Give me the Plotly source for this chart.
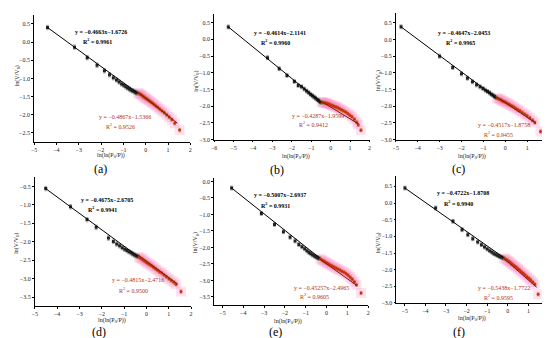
import plotly.graph_objects as go

W, H = 550, 338

# ---------------- data ----------------
# panel (a)
a_bx = [-4.40, -3.19, -2.62, -2.18, -1.85, -1.62, -1.45, -1.31, -1.19, -1.08, -0.98, -0.89, -0.81, -0.73, -0.66, -0.59, -0.52, -0.46, -0.40]
a_by = [0.40, -0.14, -0.43, -0.64, -0.79, -0.90, -0.98, -1.04, -1.10, -1.15, -1.19, -1.23, -1.26, -1.29, -1.32, -1.34, -1.36, -1.38, -1.40]
a_rx = [-0.34, -0.28, -0.22, -0.16, -0.10, -0.04, 0.02, 0.08, 0.15, 0.22, 0.29, 0.37, 0.45, 0.54, 0.63, 0.73, 0.83, 0.94, 1.05, 1.17, 1.30, 1.52]
a_ry = [-1.40, -1.42, -1.44, -1.47, -1.50, -1.53, -1.55, -1.58, -1.61, -1.64, -1.67, -1.71, -1.75, -1.79, -1.84, -1.89, -1.94, -2.00, -2.06, -2.13, -2.23, -2.42]
a_blx, a_bly = [-4.40, -0.35], [0.40, -1.41]
a_rlx, a_rly = [-0.36, 1.42], [-1.37, -2.23]

# panel (b)
b_bx = [-5.27, -3.25, -2.65, -2.25, -1.87, -1.67, -1.50, -1.36, -1.24, -1.13, -1.03, -0.94, -0.86, -0.78, -0.70, -0.63, -0.56, -0.50]
b_by = [0.37, -0.55, -0.88, -1.08, -1.26, -1.38, -1.42, -1.49, -1.55, -1.60, -1.65, -1.69, -1.73, -1.76, -1.80, -1.83, -1.86, -1.89]
b_rx = [-0.46, -0.40, -0.33, -0.26, -0.19, -0.12, -0.05, 0.03, 0.11, 0.19, 0.28, 0.37, 0.46, 0.56, 0.66, 0.77, 0.88, 0.99, 1.10, 1.22, 1.34, 1.42, 1.56]
b_ry = [-1.88, -1.89, -1.90, -1.91, -1.92, -1.93, -1.95, -1.97, -1.99, -2.01, -2.03, -2.05, -2.08, -2.11, -2.14, -2.18, -2.22, -2.27, -2.32, -2.39, -2.48, -2.56, -2.72]
b_blx, b_bly = [-5.27, -0.48], [0.37, -1.89]
b_rlx, b_rly = [-0.45, 1.42], [-1.87, -2.53]

# panel (c)
c_bx = [-4.76, -3.00, -2.40, -2.00, -1.73, -1.50, -1.31, -1.15, -1.02, -0.91, -0.81, -0.72, -0.64, -0.56, -0.49, -0.42]
c_by = [0.38, -0.50, -0.84, -1.03, -1.16, -1.27, -1.36, -1.42, -1.47, -1.52, -1.56, -1.60, -1.64, -1.67, -1.71, -1.74]
c_rx = [-0.38, -0.31, -0.24, -0.17, -0.10, -0.03, 0.05, 0.13, 0.21, 0.29, 0.38, 0.47, 0.57, 0.67, 0.78, 0.89, 1.00, 1.12, 1.24, 1.35, 1.61]
c_ry = [-1.76, -1.78, -1.80, -1.82, -1.85, -1.87, -1.90, -1.93, -1.96, -1.99, -2.02, -2.06, -2.10, -2.14, -2.19, -2.24, -2.29, -2.35, -2.42, -2.49, -2.76]
c_blx, c_bly = [-4.76, -0.41], [0.38, -1.75]
c_rlx, c_rly = [-0.40, 1.40], [-1.72, -2.51]

# panel (d)
d_bx = [-4.51, -3.40, -2.66, -2.25, -1.70, -1.48, -1.33, -1.20, -1.08, -0.97, -0.87, -0.78, -0.69, -0.61, -0.53, -0.45, -0.38]
d_by = [-0.56, -1.05, -1.40, -1.61, -1.90, -1.99, -2.06, -2.11, -2.16, -2.20, -2.24, -2.27, -2.30, -2.33, -2.36, -2.38, -2.40]
d_rx = [-0.34, -0.27, -0.20, -0.13, -0.06, 0.01, 0.08, 0.16, 0.24, 0.32, 0.41, 0.50, 0.59, 0.69, 0.79, 0.90, 1.01, 1.12, 1.23, 1.33, 1.55]
d_ry = [-2.41, -2.44, -2.47, -2.50, -2.53, -2.56, -2.59, -2.62, -2.65, -2.69, -2.73, -2.77, -2.81, -2.85, -2.90, -2.95, -3.00, -3.05, -3.10, -3.15, -3.35]
d_blx, d_bly = [-4.51, -0.37], [-0.56, -2.40]
d_rlx, d_rly = [-0.37, 1.40], [-2.36, -3.15]

# panel (e)
e_bx = [-4.56, -3.13, -2.50, -2.07, -1.75, -1.51, -1.33, -1.18, -1.05, -0.94, -0.84, -0.75, -0.66, -0.58, -0.50, -0.42, -0.35]
e_by = [-0.20, -0.97, -1.30, -1.52, -1.69, -1.80, -1.91, -1.98, -2.04, -2.10, -2.15, -2.19, -2.23, -2.26, -2.29, -2.31, -2.33]
e_rx = [-0.30, -0.22, -0.14, -0.06, 0.02, 0.10, 0.18, 0.27, 0.36, 0.45, 0.54, 0.64, 0.74, 0.84, 0.94, 1.04, 1.14, 1.24, 1.34, 1.44, 1.66]
e_ry = [-2.34, -2.38, -2.41, -2.44, -2.47, -2.50, -2.53, -2.56, -2.59, -2.62, -2.65, -2.68, -2.72, -2.75, -2.79, -2.84, -2.90, -2.96, -3.04, -3.13, -3.38]
e_blx, e_bly = [-4.56, -0.32], [-0.20, -2.32]
e_rlx, e_rly = [-0.32, 1.45], [-2.35, -3.15]

# panel (f)
f_bx = [-4.99, -3.50, -2.66, -2.22, -1.94, -1.70, -1.46, -1.28, -1.13, -1.00, -0.88, -0.77, -0.67, -0.57, -0.48, -0.39, -0.30, -0.22]
f_by = [0.45, -0.15, -0.55, -0.80, -0.95, -1.07, -1.17, -1.25, -1.32, -1.38, -1.43, -1.48, -1.52, -1.55, -1.58, -1.61, -1.63, -1.65]
f_rx = [-0.17, -0.10, -0.03, 0.04, 0.11, 0.18, 0.25, 0.33, 0.41, 0.49, 0.57, 0.66, 0.75, 0.84, 0.93, 1.02, 1.11, 1.21, 1.31, 1.47]
f_ry = [-1.66, -1.69, -1.72, -1.75, -1.78, -1.82, -1.85, -1.89, -1.93, -1.97, -2.01, -2.06, -2.11, -2.16, -2.21, -2.26, -2.31, -2.37, -2.44, -2.74]
f_blx, f_bly = [-4.99, -0.19], [0.45, -1.64]
f_rlx, f_rly = [-0.20, 1.40], [-1.66, -2.53]

black_err = 0.06
red_err = 0.05

eq_black = ["y = −0.4663x−1.6726", "y = −0.4614x−2.1141", "y = −0.4647x−2.0453",
            "y = −0.4675x−2.6705", "y = −0.5007x−2.6937", "y = −0.4722x−1.8708"]
r2_black = ["0.9961", "0.9960", "0.9965", "0.9941", "0.9931", "0.9940"]
eq_red = ["y = −0.4867x−1.5366", "y = −0.4287x−1.9599", "y = −0.4517x−1.8758",
          "y = −0.4815x−2.4716", "y = −0.45257x−2.4965", "y = −0.5438x−1.7722"]
r2_red = ["0.9526", "0.9412", "0.9455", "0.9500", "0.9605", "0.9595"]
labels = ["(a)", "(b)", "(c)", "(d)", "(e)", "(f)"]

# ---------------- layout geometry (pixels) ----------------
panels = [
    dict(bx=a_bx, by=a_by, rx=a_rx, ry=a_ry, blx=a_blx, bly=a_bly, rlx=a_rlx, rly=a_rly,
         px=(23.3, 181.0), py=(6.8, 135.3), xr=[-5, 2], yr=[-2.75, 0.75],
         eqb=(-3.24, 0.28), r2b=(-2.9, 0.04), eqr=(-2.16, -2.05), r2r=(-1.85, -2.30),
         ytit=(6, 68), xtit=(101, 149), lab=(90, 162)),
    dict(bx=b_bx, by=b_by, rx=b_rx, ry=b_ry, blx=b_blx, bly=b_bly, rlx=b_rlx, rly=b_rly,
         px=(205.0, 361.8), py=(6.3, 132.7), xr=[-6, 2], yr=[-3.0, 0.75],
         eqb=(-4.05, 0.19), r2b=(-3.7, -0.07), eqr=(-2.09, -2.29), r2r=(-1.75, -2.53),
         ytit=(187, 74), xtit=(288, 150), lab=(268, 163)),
    dict(bx=c_bx, by=c_by, rx=c_rx, ry=c_ry, blx=c_blx, bly=c_bly, rlx=c_rlx, rly=c_rly,
         px=(388.3, 543.0), py=(4.9, 132.7), xr=[-5, 2], yr=[-3.0, 0.8],
         eqb=(-3.15, 0.2), r2b=(-2.8, -0.07), eqr=(-1.35, -2.56), r2r=(-1.05, -2.83),
         ytit=(371, 73), xtit=(465, 150), lab=(452, 162)),
    dict(bx=d_bx, by=d_by, rx=d_rx, ry=d_ry, blx=d_blx, bly=d_bly, rlx=d_rlx, rly=d_rly,
         px=(24.0, 181.7), py=(170.7, 301.0), xr=[-5, 2], yr=[-3.75, -0.25],
         eqb=(-3.04, -0.86), r2b=(-2.7, -1.10), eqr=(-1.62, -3.05), r2r=(-1.33, -3.30),
         ytit=(6, 237), xtit=(102, 315), lab=(89, 327)),
    dict(bx=e_bx, by=e_by, rx=e_rx, ry=e_ry, blx=e_blx, bly=e_bly, rlx=e_rlx, rly=e_rly,
         px=(205.0, 360.4), py=(171.7, 299.9), xr=[-5.4, 2], yr=[-3.75, 0.1],
         eqb=(-3.58, -0.42), r2b=(-3.26, -0.70), eqr=(-1.67, -3.22), r2r=(-1.35, -3.48),
         ytit=(187, 237), xtit=(280, 316), lab=(267, 327)),
    dict(bx=f_bx, by=f_by, rx=f_rx, ry=f_ry, blx=f_blx, bly=f_bly, rlx=f_rlx, rly=f_rly,
         px=(389.0, 543.0), py=(169.9, 297.6), xr=[-5.4, 2], yr=[-3.0, 0.8],
         eqb=(-3.54, 0.30), r2b=(-3.2, 0.0), eqr=(-1.54, -2.56), r2r=(-1.23, -2.81),
         ytit=(371, 237), xtit=(465, 313), lab=(452, 327)),
]

SERIF = "Liberation Serif"
RED_TXT = "#b3301a"

fig = go.Figure()
annotations = []
layout = dict(width=W, height=H, margin=dict(l=0, r=0, t=0, b=0),
              paper_bgcolor="white", plot_bgcolor="white", showlegend=False)

for i, p in enumerate(panels):
    n = "" if i == 0 else str(i + 1)
    xa, ya = "x" + n, "y" + n
    # pink band behind red points
    fig.add_trace(go.Scatter(x=p["rx"], y=p["ry"], mode="markers", xaxis=xa, yaxis=ya,
                             marker=dict(symbol="square", size=10, color="rgba(255,120,190,0.22)",
                                         line=dict(width=0)), hoverinfo="skip"))
    # black points with error bars
    fig.add_trace(go.Scatter(x=p["bx"], y=p["by"], mode="markers", xaxis=xa, yaxis=ya,
                             marker=dict(symbol="square", size=3, color="#222"),
                             error_y=dict(type="constant", value=black_err, color="#777",
                                          thickness=0.6, width=1.5)))
    # red points with error bars
    fig.add_trace(go.Scatter(x=p["rx"], y=p["ry"], mode="markers", xaxis=xa, yaxis=ya,
                             marker=dict(symbol="circle", size=3, color="#d42a10"),
                             error_y=dict(type="constant", value=red_err, color="#9c9a3c",
                                          thickness=0.6, width=1.5)))
    # fit lines
    fig.add_trace(go.Scatter(x=p["blx"], y=p["bly"], mode="lines", xaxis=xa, yaxis=ya,
                             line=dict(color="black", width=1)))
    fig.add_trace(go.Scatter(x=p["rlx"], y=p["rly"], mode="lines", xaxis=xa, yaxis=ya,
                             line=dict(color="#7a1a10", width=1)))

    dx = [p["px"][0] / W, p["px"][1] / W]
    dy = [1 - p["py"][1] / H, 1 - p["py"][0] / H]
    axis_common = dict(showline=True, linecolor="black", linewidth=0.8, ticks="outside",
                       ticklen=2, tickwidth=0.6, tickcolor="black", showgrid=False,
                       zeroline=False, tickfont=dict(family=SERIF, size=6, color="#222"))
    layout["xaxis" + n] = dict(domain=dx, range=p["xr"], anchor=ya, dtick=1, tick0=0,
                               ticklabelstandoff=0, **axis_common)
    layout["yaxis" + n] = dict(domain=dy, range=p["yr"], anchor=xa, dtick=0.5, tick0=0,
                               tickformat=".1f", ticklabelstandoff=0, **axis_common)

    tf = dict(family=SERIF, size=6, color="black")
    tr = dict(family=SERIF, size=6, color=RED_TXT)
    annotations += [
        dict(x=p["eqb"][0], y=p["eqb"][1], xref=xa, yref=ya, text="<b>" + eq_black[i] + "</b>",
             showarrow=False, xanchor="left", yanchor="middle", font=tf),
        dict(x=p["r2b"][0], y=p["r2b"][1], xref=xa, yref=ya,
             text="<b>R<sup>2</sup> = " + r2_black[i] + "</b>",
             showarrow=False, xanchor="left", yanchor="middle", font=tf),
        dict(x=p["eqr"][0], y=p["eqr"][1], xref=xa, yref=ya, text=eq_red[i],
             showarrow=False, xanchor="left", yanchor="middle", font=tr),
        dict(x=p["r2r"][0], y=p["r2r"][1], xref=xa, yref=ya,
             text="R<sup>2</sup> = " + r2_red[i],
             showarrow=False, xanchor="left", yanchor="middle", font=tr),
        dict(x=p["ytit"][0] / W, y=1 - p["ytit"][1] / H, xref="paper", yref="paper",
             text="ln(V/V<sub>0</sub>)", textangle=-90, showarrow=False,
             xanchor="center", yanchor="middle", font=dict(family=SERIF, size=6, color="#222")),
        dict(x=p["xtit"][0] / W, y=1 - p["xtit"][1] / H, xref="paper", yref="paper",
             text="ln(ln(P<sub>0</sub>/P))", showarrow=False,
             xanchor="center", yanchor="middle", font=dict(family=SERIF, size=6, color="#222")),
        dict(x=p["lab"][0] / W, y=1 - p["lab"][1] / H, xref="paper", yref="paper",
             text=labels[i], showarrow=False, xanchor="center", yanchor="middle",
             font=dict(family=SERIF, size=12, color="black")),
    ]

layout["annotations"] = annotations
fig.update_layout(**layout)
fig.write_html("out.html")
